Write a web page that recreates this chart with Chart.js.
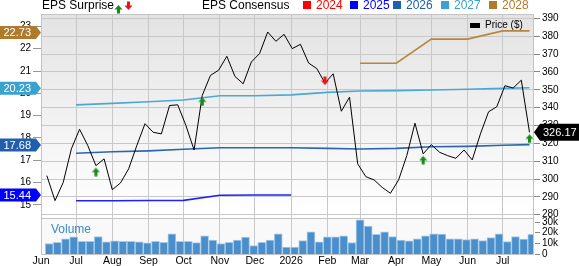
<!DOCTYPE html>
<html><head><meta charset="utf-8">
<script src="https://cdn.jsdelivr.net/npm/chart.js@4.4.1/dist/chart.umd.min.js"></script>
<style>html,body{margin:0;padding:0;background:#fff;}#wrap{position:relative;width:579px;height:266px;}canvas{display:block;}</style>
</head><body><div id="wrap"><canvas id="c" width="579" height="266"></canvas></div>
<script>
// ---- data ----
const weekDates = ['2025-06-06','2025-06-13','2025-06-20','2025-06-27','2025-07-04','2025-07-11','2025-07-18','2025-07-25','2025-08-01','2025-08-08','2025-08-15','2025-08-22','2025-08-29','2025-09-05','2025-09-12','2025-09-19','2025-09-26','2025-10-03','2025-10-10','2025-10-17','2025-10-24','2025-10-31','2025-11-07','2025-11-14','2025-11-21','2025-11-28','2025-12-05','2025-12-12','2025-12-19','2025-12-26','2026-01-02','2026-01-09','2026-01-16','2026-01-23','2026-01-30','2026-02-06','2026-02-13','2026-02-20','2026-02-27','2026-03-06','2026-03-13','2026-03-20','2026-03-27','2026-04-03','2026-04-10','2026-04-17','2026-04-24','2026-05-01','2026-05-08','2026-05-15','2026-05-22','2026-05-29','2026-06-05','2026-06-12','2026-06-19','2026-06-26','2026-07-03','2026-07-10','2026-07-17','2026-07-24'];
const price = [301.9,287.9,298.1,316.9,327.9,318.8,307.5,311.3,294.0,297.8,305.7,318.8,331.0,326.2,325.3,341.2,341.6,330.0,316.3,346.9,358.1,361.0,368.8,357.5,353.4,365.6,370.3,382.4,377.2,381.1,373.1,375.5,365.0,361.9,353.8,359.0,338.0,345.9,308.5,301.3,299.5,295.3,292.0,299.5,313.1,331.3,314.1,319.3,315.0,313.1,311.6,316.3,310.7,325.3,337.7,340.5,352.3,351.0,355.4,326.17];
const volumeK = [9.7,10.9,14.0,15.9,11.8,11.8,16.2,11.2,12.1,11.8,11.8,11.2,10.3,11.8,10.9,18.7,11.8,11.8,10.6,16.8,12.8,9.7,10.9,12.8,15.6,7.8,10.9,12.8,18.7,6.5,6.5,12.5,20.6,11.2,15.9,15.9,16.8,10.6,31.5,25.9,18.1,20.6,16.2,12.8,12.1,14.0,16.8,18.7,18.4,14.0,14.0,13.4,14.0,12.5,15.3,18.7,11.5,16.2,13.7,18.1];
const surpriseDates = ['2025-07-18','2025-10-17','2026-01-30','2026-04-24','2026-07-24'];
const surpriseDir = ['up','up','down','up','up'];
const consDates = ['2025-07-01','2025-08-01','2025-09-01','2025-10-01','2025-11-01','2025-12-01','2026-01-01','2026-02-01','2026-03-01','2026-04-01','2026-05-01','2026-06-01','2026-07-01','2026-07-24'];
const eps2025 = [15.18,15.18,15.19,15.20,15.43,15.44,15.44,null,null,null,null,null,null,null];
const eps2026 = [17.31,17.38,17.42,17.49,17.56,17.56,17.56,17.53,17.50,17.53,17.60,17.62,17.67,17.70];
const eps2027 = [19.48,19.55,19.62,19.70,19.89,19.89,19.93,20.04,20.10,20.12,20.15,20.18,20.22,20.25];
const eps2028 = [null,null,null,null,null,null,null,null,21.35,21.35,22.43,22.43,22.80,22.80];
const currentEps = [22.73,20.23,17.68,15.44];
const currentEpsYears = ['2028','2027','2026','2025'];
const lastPrice = 326.17;
const monthStarts = ['2025-06-01','2025-07-01','2025-08-01','2025-09-01','2025-10-01','2025-11-01','2025-12-01','2026-01-01','2026-02-01','2026-03-01','2026-04-01','2026-05-01','2026-06-01','2026-07-01'];
const monthLabels = ['Jun','Jul','Aug','Sep','Oct','Nov','Dec','2026','Feb','Mar','Apr','May','Jun','Jul'];
const priceTicks = [280,290,300,310,320,330,340,350,360,370,380,390];
const epsTicks = [15,16,17,18,19,20,21,22,23];
const volTicksK = [0,10,20,30];
const legendYears = ['2024','2025','2026','2027','2028'];

// ---- helpers ----
const T0 = Date.UTC(2025,5,1);
function dayOf(s){const p=s.split('-').map(Number);return (Date.UTC(p[0],p[1]-1,p[2])-T0)/86400000;}
const colors = {'2024':'#ff0000','2025':'#0000ff','2026':'#1f5fad','2027':'#3ba1cf','2028':'#b07a2c'};
const lineColors = {'2025':'#2020ff','2026':'#2a66b0','2027':'#4aa8d6','2028':'#b8863a'};
const FONT = '"Liberation Sans", Arial, sans-serif';
Chart.defaults.font.family = FONT;
Chart.defaults.color = '#000';

function arrowImg(dir){
  const c=document.createElement('canvas');
  c.width=9; c.height=dir==='up'?22:16;
  const g=c.getContext('2d');
  g.fillStyle=dir==='up'?'#1a8c1a':'#e8141a';
  g.beginPath();
  if(dir==='up'){
    g.moveTo(4.5,13);g.lineTo(8.5,17.5);g.lineTo(6,17.5);g.lineTo(6,21.5);g.lineTo(3,21.5);g.lineTo(3,17.5);g.lineTo(0.5,17.5);
  } else {
    g.moveTo(3,1.5);g.lineTo(6,1.5);g.lineTo(6,5.5);g.lineTo(8.5,5.5);g.lineTo(4.5,10);g.lineTo(0.5,5.5);g.lineTo(3,5.5);
  }
  g.closePath();g.fill();
  return c;
}
const upImg=arrowImg('up'), downImg=arrowImg('down');

const consSeries = [['2025',eps2025],['2026',eps2026],['2027',eps2027],['2028',eps2028]];
const consDatasets = consSeries.map(([yr,arr])=>({
  type:'line', label:yr, yAxisID:'yEps', order:5,
  data: arr.map((v,i)=>v==null?null:{x:dayOf(consDates[i]),y:v}).filter(Boolean),
  borderColor: lineColors[yr], borderWidth:1.6, pointRadius:0, tension:0
}));

const surpriseData = surpriseDates.map(d=>({x:dayOf(d), y:price[weekDates.indexOf(d)]}));

const bgPlugin = {
  id:'bg',
  beforeDraw(chart){
    const {ctx, chartArea:a, scales} = chart;
    const yb = scales.y.getPixelForValue(280);
    const g = ctx.createLinearGradient(0,a.top,0,yb);
    g.addColorStop(0,'#e3e3e3'); g.addColorStop(1,'#ffffff');
    ctx.save();
    ctx.fillStyle=g; ctx.fillRect(a.left,a.top,a.right-a.left,yb-a.top);
    const vt = scales.yVol.getPixelForValue(33.5);
    ctx.fillStyle='#f9f9f9'; ctx.fillRect(a.left,vt,a.right-a.left,a.bottom-vt);
    ctx.restore();
  }
};

const overlay = {
  id:'overlay',
  afterDraw(chart){
    const {ctx, chartArea:a, scales} = chart;
    ctx.save();
    ctx.strokeStyle='#c4c4c4'; ctx.lineWidth=1;
    ctx.beginPath(); ctx.moveTo(a.left,a.top+0.5); ctx.lineTo(a.right,a.top+0.5); ctx.stroke();
    const vt = Math.round(scales.yVol.getPixelForValue(33.5))+0.5;
    ctx.beginPath(); ctx.moveTo(a.left,vt); ctx.lineTo(a.right,vt); ctx.stroke();
    ctx.fillStyle='#3a88cc'; ctx.font='12px '+FONT; ctx.textBaseline='middle'; ctx.textAlign='left';
    ctx.fillText('Volume', a.left+10, vt+11);
    ctx.font='10px '+FONT; ctx.fillStyle='#000';
    volTicksK.forEach(v=>{
      const y=Math.round(scales.yVol.getPixelForValue(v));
      ctx.strokeStyle='#888'; ctx.beginPath(); ctx.moveTo(a.right+2,y+0.5); ctx.lineTo(a.right+7,y+0.5); ctx.stroke();
      ctx.fillText(v===0?'0':v+'k', a.right+9, y);
    });
    ctx.font='12px '+FONT; ctx.fillStyle='#000'; ctx.textBaseline='middle';
    ctx.fillText('EPS Surprise', 42, 6);
    ctx.drawImage(upImg, 114, -8);
    ctx.drawImage(downImg, 124, 0);
    ctx.fillText('EPS Consensus', 202, 6);
    const lx=[303,350,393,441,489];
    legendYears.forEach((yr,i)=>{
      ctx.fillStyle=colors[yr]; ctx.fillRect(lx[i],1,8,8);
      ctx.fillText(yr, lx[i]+13, 6);
    });
    ctx.fillStyle='#000'; ctx.fillRect(470,23,10,5);
    ctx.font='10px '+FONT; ctx.fillText('Price ($)', 485, 25.5);
    ctx.font='11px '+FONT;
    currentEps.forEach((v,i)=>{
      const y=scales.yEps.getPixelForValue(v);
      ctx.fillStyle=colors[currentEpsYears[i]];
      ctx.beginPath(); ctx.moveTo(0,y-6.5); ctx.lineTo(36,y-6.5); ctx.lineTo(41,y); ctx.lineTo(36,y+6.5); ctx.lineTo(0,y+6.5); ctx.closePath(); ctx.fill();
      ctx.fillStyle='#fff'; ctx.fillText(v.toFixed(2), 3.5, y+0.5);
    });
    const py=scales.y.getPixelForValue(lastPrice);
    ctx.fillStyle='#000';
    ctx.beginPath(); ctx.moveTo(534,py); ctx.lineTo(540,py-8.5); ctx.lineTo(579,py-8.5); ctx.lineTo(579,py+8.5); ctx.lineTo(540,py+8.5); ctx.closePath(); ctx.fill();
    ctx.fillStyle='#fff'; ctx.fillText(lastPrice.toFixed(2), 543, py+0.5);
    ctx.restore();
  }
};

new Chart(document.getElementById('c'), {
  type:'line',
  data:{datasets:[
    {type:'bar', label:'Volume', yAxisID:'yVol', order:10,
     data: volumeK.map((v,i)=>({x:dayOf(weekDates[i])+2, y:v})),
     backgroundColor:'#4a8fcb', borderColor:'#a8cbe8', borderWidth:{top:1,left:1,right:1,bottom:0}, borderSkipped:'bottom', barThickness:8},
    ...consDatasets,
    {type:'line', label:'Price ($)', yAxisID:'y', order:2,
     data: price.map((v,i)=>({x:dayOf(weekDates[i]), y:v})),
     borderColor:'#000', borderWidth:1, pointRadius:0, tension:0},
    {type:'line', label:'EPS Surprise', yAxisID:'y', order:1, showLine:false,
     data: surpriseData, pointStyle: surpriseDir.map(d=>d==='up'?upImg:downImg), pointRadius:5}
  ]},
  options:{
    animation:false, responsive:false, devicePixelRatio:1,
    layout:{padding:{top:14,left:0,right:0,bottom:0}},
    plugins:{legend:{display:false}, tooltip:{enabled:false}},
    scales:{
      x:{type:'linear', min:0, max:421, offset:false,
         afterBuildTicks:ax=>{ax.ticks=monthStarts.map(s=>({value:dayOf(s)}));},
         afterFit:ax=>{ax.height=12;},
         ticks:{callback:(v,i)=>monthLabels[i], autoSkip:false, maxRotation:0, minRotation:0, font:{size:10.5}, color:'#000', padding:1},
         grid:{color:'#c8c8c8', drawTicks:false, offset:false}, border:{color:'#c4c4c4'}},
      y:{position:'right', min:257.97, max:392.5,
         afterBuildTicks:ax=>{ax.ticks=priceTicks.map(v=>({value:v}));},
         afterFit:ax=>{ax.width=46;},
         ticks:{font:{size:10}, color:'#000', padding:2},
         grid:{color:'#c8c8c8', tickLength:7, tickColor:'#888'}, border:{color:'#c4c4c4'}},
      yEps:{position:'left', min:12.794, max:23.556,
         afterBuildTicks:ax=>{ax.ticks=epsTicks.map(v=>({value:v}));},
         afterFit:ax=>{ax.width=41;},
         ticks:{font:{size:10}, color:'#000', padding:2},
         grid:{drawOnChartArea:false, tickLength:8, tickColor:'#999'}, border:{color:'#c4c4c4'}},
      yVol:{display:false, min:0, max:222}
    }
  },
  plugins:[bgPlugin, overlay]
});
</script></body></html>
